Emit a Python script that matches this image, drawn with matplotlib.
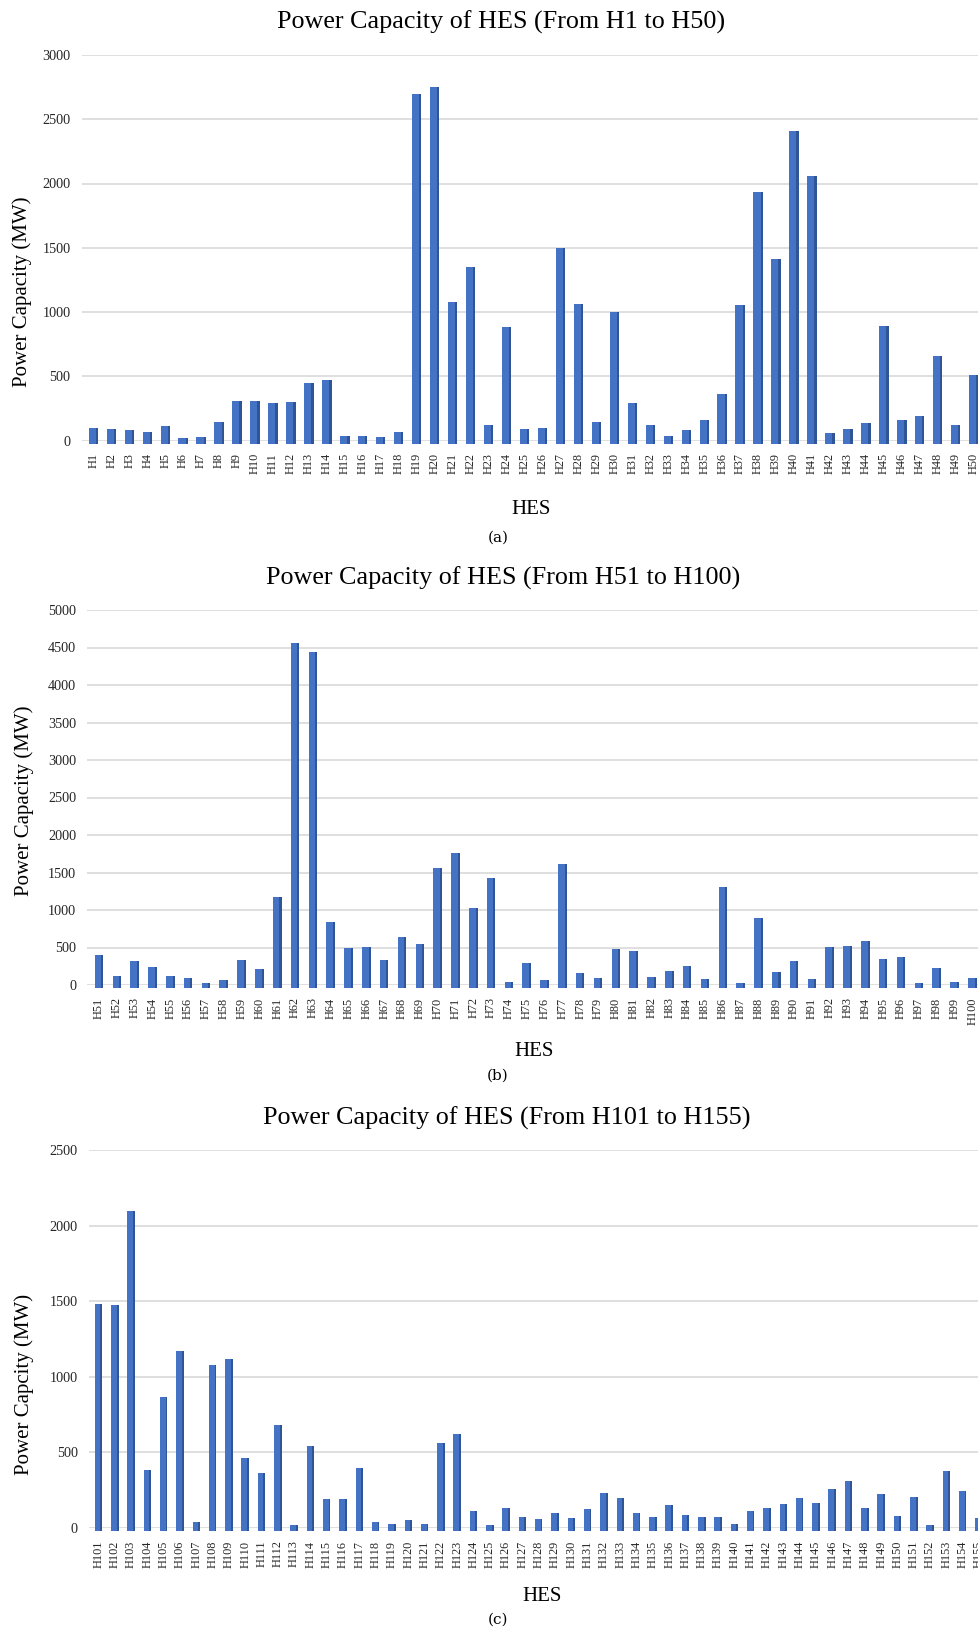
import matplotlib
matplotlib.use('Agg')
import matplotlib.pyplot as plt

plt.rcParams['font.family'] = ['Liberation Serif', 'DejaVu Serif']

W, H = 979, 1632

# ---- data ----
names_a = ['H%d' % i for i in range(1, 51)]
values_a = [100, 87, 79, 66, 116, 18, 26, 142, 310, 310,
            295, 302, 447, 468, 32, 37, 29, 66, 2696, 2748,
            1076, 1349, 124, 881, 87, 97, 1499, 1065, 145, 999,
            289, 118, 32, 82, 160, 360, 1057, 1933, 1412, 2412,
            2059, 55, 92, 134, 894, 160, 189, 658, 118, 508]

names_b = ['H%d' % i for i in range(51, 101)]
values_b = [400, 120, 322, 239, 120, 92, 32, 69, 327, 212,
            1173, 4563, 4434, 837, 497, 501, 340, 639, 552, 1555,
            1757, 1021, 1421, 37, 299, 69, 1615, 166, 87, 483,
            451, 110, 193, 253, 83, 1306, 25, 892, 175, 322,
            74, 501, 515, 585, 345, 375, 28, 230, 42, 90]

names_c = ['H%d' % i for i in range(101, 156)]
values_c = [1480, 1475, 2099, 385, 867, 1168, 41, 1076, 1115, 466,
            362, 684, 22, 541, 193, 193, 395, 37, 28, 55,
            28, 562, 622, 115, 21, 133, 73, 60, 101, 69,
            126, 229, 200, 101, 76, 151, 83, 76, 76, 25,
            112, 135, 156, 200, 163, 257, 310, 133, 225, 80,
            204, 20, 378, 243, 68]

FACE = '#4472C4'
SIDE = '#2F5597'


def fx(x):
    return x / W


def fy(y):
    return 1 - y / H


def panel(left, right, top, bottom, names, values, ymax, xlo, xhi, bw,
          title, title_pos, ylabel, ylabel_pos, hes_pos, tag, tag_pos):
    ax = fig.add_axes([fx(left), fy(bottom), fx(right) - fx(left), fy(top) - fy(bottom)])
    x = list(range(len(values)))
    # 3D-looking base: bars start a few pixels under the zero line
    base = 3.0 * ymax / (bottom - top)
    hts = [v + base for v in values]
    ax.bar(x, hts, width=bw, bottom=-base, color=SIDE, clip_on=False, zorder=3)
    ax.bar([i - bw * 0.12 for i in x], hts, width=bw * 0.76, bottom=-base,
           color=FACE, clip_on=False, zorder=4)
    ax.set_xlim(xlo, xhi)
    ax.set_ylim(0, ymax)
    ax.set_yticks(range(0, ymax + 1, 500))
    ax.set_xticks(x)
    ax.set_xticklabels(names, rotation=90, fontsize=8.8)
    ax.tick_params(axis='x', length=0, pad=9, colors='#262626')
    ax.tick_params(axis='y', length=0, pad=8, labelsize=10.3, colors='#262626')
    ax.yaxis.grid(True, color='#D9D9D9', linewidth=1.2)
    ax.set_axisbelow(True)
    for s in ax.spines.values():
        s.set_visible(False)

    fig.text(fx(title_pos[0]), fy(title_pos[1]), title, fontsize=18.8,
             ha='center', va='baseline')
    fig.text(fx(ylabel_pos[0]), fy(ylabel_pos[1]), ylabel, fontsize=15,
             rotation=90, ha='center', va='center')
    fig.text(fx(hes_pos[0]), fy(hes_pos[1]), 'HES', fontsize=15,
             ha='center', va='baseline')
    fig.text(fx(tag_pos[0]), fy(tag_pos[1]), tag, fontsize=11,
             family='DejaVu Serif', ha='center', va='center')
    return ax


fig = plt.figure(figsize=(W / 100, H / 100), dpi=100)

panel(81.7, 979, 55, 440.5, names_a, values_a, 3000, -0.646, 49.295, 0.52,
      'Power Capacity of HES (From H1 to H50)', (500.8, 28.7),
      'Power Capacity (MW)', (21.7, 291.5), (531, 514.5), '(a)', (498, 538))

panel(87.3, 979, 610, 985, names_b, values_b, 5000, -0.657, 49.376, 0.48,
      'Power Capacity of HES (From H51 to H100)', (503.3, 584.8),
      'Power Capacity (MW)', (24, 801), (534, 1055.5), '(b)', (498, 1076))

panel(89, 979, 1150, 1528, names_c, values_c, 2500, -0.58, 53.98, 0.46,
      'Power Capacity of HES (From H101 to H155)', (506.3, 1124.6),
      'Power Capcity (MW)', (24, 1384), (542, 1601), '(c)', (498, 1620))

fig.savefig('out.png', dpi=100)
